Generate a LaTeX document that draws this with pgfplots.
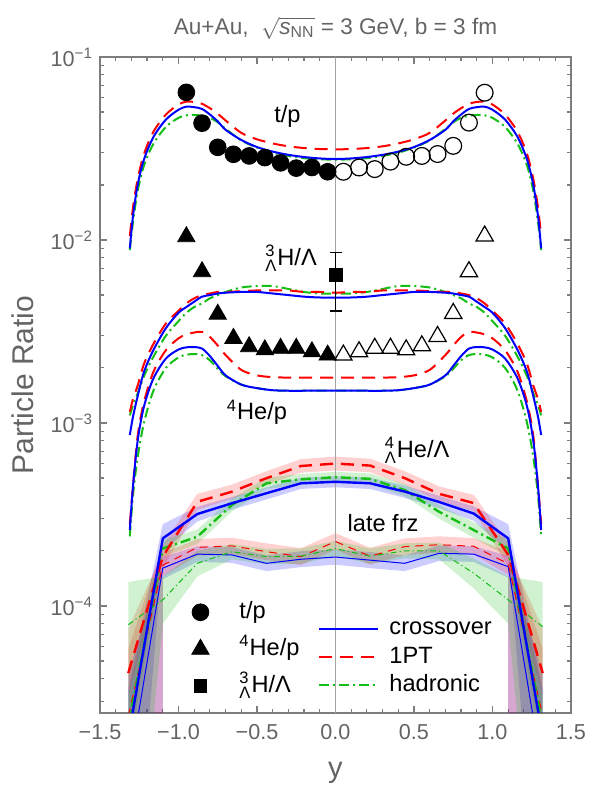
\documentclass[border=0pt]{standalone}
\usepackage{fontspec}
\setmainfont{Liberation Sans}
\usepackage{amsmath}
\usepackage{pgfplots}
\usepackage{pgfplotstable}
\pgfplotsset{compat=1.18}
\usepgfplotslibrary{fillbetween}

\definecolor{mgreen}{RGB}{20,190,20}
\definecolor{labelgray}{RGB}{100,100,100}
\definecolor{framegray}{RGB}{125,125,125}

\newcommand{\hyp}[2]{\ensuremath{{}^{\text{#1}}_{\text{Λ}}}#2}
\newcommand{\lfont}{\fontsize{11.8}{13}\selectfont}

% t/p curves
\pgfplotstableread{
x cr pt hd
-1.31 0.0090 0.0105 0.0088
-1.29 0.0135 0.0150 0.0125
-1.26 0.0200 0.0215 0.0185
-1.22 0.0275 0.0295 0.0255
-1.16 0.0365 0.0390 0.0335
-1.08 0.0455 0.0485 0.0415
-1.00 0.0515 0.0550 0.0465
-0.95 0.0535 0.0570 0.0480
-0.90 0.0532 0.0568 0.0482
-0.85 0.0520 0.0555 0.0478
-0.80 0.0485 0.0525 0.0465
-0.75 0.0445 0.0490 0.0440
-0.70 0.0400 0.0450 0.0405
-0.60 0.0352 0.0385 0.0350
-0.50 0.0322 0.0355 0.0320
-0.40 0.0304 0.0337 0.0300
-0.30 0.0292 0.0325 0.0288
-0.20 0.0284 0.0318 0.0280
-0.10 0.0279 0.0314 0.0276
0.00 0.0277 0.0313 0.0275
0.10 0.0279 0.0314 0.0276
0.20 0.0284 0.0318 0.0280
0.30 0.0292 0.0325 0.0288
0.40 0.0304 0.0337 0.0300
0.50 0.0322 0.0355 0.0320
0.60 0.0352 0.0385 0.0350
0.70 0.0400 0.0450 0.0405
0.75 0.0445 0.0490 0.0440
0.80 0.0485 0.0525 0.0465
0.85 0.0520 0.0555 0.0478
0.90 0.0532 0.0568 0.0482
0.95 0.0535 0.0570 0.0480
1.00 0.0515 0.0550 0.0465
1.08 0.0455 0.0485 0.0415
1.16 0.0365 0.0390 0.0335
1.22 0.0275 0.0295 0.0255
1.26 0.0200 0.0215 0.0185
1.29 0.0135 0.0150 0.0125
1.31 0.0090 0.0105 0.0088
}\Ttp

% 3LH/L curves
\pgfplotstableread{
x cr pt hd
-1.31 0.00086 0.00115 0.00110
-1.29 0.00108 0.00135 0.00125
-1.26 0.00140 0.00160 0.00145
-1.22 0.00190 0.00210 0.00180
-1.16 0.00250 0.00270 0.00230
-1.08 0.00330 0.00350 0.00300
-1.00 0.00400 0.00410 0.00360
-0.95 0.00430 0.00450 0.00400
-0.90 0.00460 0.00480 0.00430
-0.85 0.00490 0.00500 0.00450
-0.80 0.00500 0.00510 0.00480
-0.75 0.00510 0.00520 0.00500
-0.70 0.00515 0.00520 0.00520
-0.60 0.00520 0.00525 0.00550
-0.50 0.00520 0.00530 0.00560
-0.40 0.00510 0.00530 0.00560
-0.30 0.00500 0.00530 0.00540
-0.20 0.00490 0.00520 0.00520
-0.10 0.00485 0.00520 0.00510
0.00 0.00484 0.00515 0.00510
0.10 0.00485 0.00520 0.00510
0.20 0.00490 0.00520 0.00520
0.30 0.00500 0.00530 0.00540
0.40 0.00510 0.00530 0.00560
0.50 0.00520 0.00530 0.00560
0.60 0.00520 0.00525 0.00550
0.70 0.00515 0.00520 0.00520
0.75 0.00510 0.00520 0.00500
0.80 0.00500 0.00510 0.00480
0.85 0.00490 0.00500 0.00450
0.90 0.00460 0.00480 0.00430
0.95 0.00430 0.00450 0.00400
1.00 0.00400 0.00410 0.00360
1.08 0.00330 0.00350 0.00300
1.16 0.00250 0.00270 0.00230
1.22 0.00190 0.00210 0.00180
1.26 0.00140 0.00160 0.00145
1.29 0.00108 0.00135 0.00125
1.31 0.00086 0.00115 0.00110
}\Thl

% 4He/p curves
\pgfplotstableread{
x cr pt hd
-1.31 0.00026 0.00028 0.00024
-1.29 0.00045 0.00045 0.00040
-1.26 0.00080 0.00085 0.00065
-1.22 0.00123 0.00130 0.00100
-1.16 0.00175 0.00190 0.00150
-1.08 0.00225 0.00250 0.00200
-1.00 0.00252 0.00290 0.00228
-0.95 0.00259 0.00305 0.00236
-0.90 0.00260 0.00312 0.00238
-0.85 0.00255 0.00315 0.00235
-0.80 0.00232 0.00295 0.00220
-0.75 0.00205 0.00265 0.00198
-0.70 0.00182 0.00235 0.00180
-0.60 0.00162 0.00195 0.00162
-0.50 0.00155 0.00182 0.00155
-0.40 0.00151 0.00178 0.00151
-0.30 0.00150 0.00177 0.00150
-0.20 0.00150 0.00177 0.00150
-0.10 0.00150 0.00177 0.00150
0.00 0.00150 0.00177 0.00150
0.10 0.00150 0.00177 0.00150
0.20 0.00150 0.00177 0.00150
0.30 0.00150 0.00177 0.00150
0.40 0.00151 0.00178 0.00151
0.50 0.00155 0.00182 0.00155
0.60 0.00162 0.00195 0.00162
0.70 0.00182 0.00235 0.00180
0.75 0.00205 0.00265 0.00198
0.80 0.00232 0.00295 0.00220
0.85 0.00255 0.00315 0.00235
0.90 0.00260 0.00312 0.00238
0.95 0.00259 0.00305 0.00236
1.00 0.00252 0.00290 0.00228
1.08 0.00225 0.00250 0.00200
1.16 0.00175 0.00190 0.00150
1.22 0.00123 0.00130 0.00100
1.26 0.00080 0.00085 0.00065
1.29 0.00045 0.00045 0.00040
1.31 0.00026 0.00028 0.00024
}\Thp

% 4LHe/L, crossover / 1PT / hadronic, with bands
\pgfplotstableread{
x v lo hi
-1.32 1.9e-5 1e-6 3.5e-5
-1.10 2.34e-4 1.98e-4 2.80e-4
-0.88 3.18e-4 2.90e-4 3.48e-4
-0.66 3.64e-4 3.36e-4 3.94e-4
-0.44 4.13e-4 3.82e-4 4.45e-4
-0.22 4.68e-4 4.36e-4 5.02e-4
0.00 4.77e-4 4.45e-4 5.12e-4
0.22 4.68e-4 4.36e-4 5.02e-4
0.44 4.22e-4 3.90e-4 4.55e-4
0.66 3.70e-4 3.42e-4 4.00e-4
0.88 3.20e-4 2.92e-4 3.50e-4
1.10 2.34e-4 1.98e-4 2.80e-4
1.32 1.9e-5 1e-6 3.5e-5
}\Ttb
\pgfplotstableread{
x v lo hi
-1.32 4.3e-5 3.2e-5 5.8e-5
-1.10 1.86e-4 1.62e-4 2.15e-4
-0.88 3.71e-4 3.35e-4 4.10e-4
-0.66 4.21e-4 3.85e-4 4.60e-4
-0.44 4.99e-4 4.58e-4 5.45e-4
-0.22 5.82e-4 5.35e-4 6.35e-4
0.00 6.00e-4 5.50e-4 6.55e-4
0.22 5.85e-4 5.38e-4 6.38e-4
0.44 5.00e-4 4.58e-4 5.45e-4
0.66 4.10e-4 3.75e-4 4.50e-4
0.88 3.65e-4 3.30e-4 4.05e-4
1.10 1.90e-4 1.65e-4 2.20e-4
1.32 4.3e-5 3.2e-5 5.8e-5
}\Ttr
\pgfplotstableread{
x v lo hi
-1.32 2.2e-5 1.5e-5 3.2e-5
-1.10 2.06e-4 1.85e-4 2.30e-4
-0.88 2.39e-4 2.18e-4 2.62e-4
-0.66 3.56e-4 3.28e-4 3.86e-4
-0.44 4.68e-4 4.36e-4 5.02e-4
-0.22 4.92e-4 4.60e-4 5.26e-4
0.00 5.05e-4 4.72e-4 5.40e-4
0.22 4.95e-4 4.62e-4 5.30e-4
0.44 4.30e-4 3.98e-4 4.64e-4
0.66 3.27e-4 3.00e-4 3.56e-4
0.88 2.60e-4 2.36e-4 2.86e-4
1.10 2.06e-4 1.85e-4 2.30e-4
1.32 2.2e-5 1.5e-5 3.2e-5
}\Ttg

% late freeze-out
\pgfplotstableread{
x v lo hi
-1.32 1.2e-5 1e-6 4.2e-5
-1.10 1.61e-4 1e-6 1.85e-4
-1.0999 1.61e-4 1.40e-4 1.85e-4
-0.88 1.92e-4 1.74e-4 2.12e-4
-0.66 1.90e-4 1.72e-4 2.10e-4
-0.44 1.71e-4 1.55e-4 1.89e-4
-0.22 1.80e-4 1.63e-4 1.99e-4
0.00 1.85e-4 1.68e-4 2.04e-4
0.22 1.78e-4 1.61e-4 1.97e-4
0.44 1.71e-4 1.55e-4 1.89e-4
0.66 1.94e-4 1.76e-4 2.14e-4
0.88 1.92e-4 1.74e-4 2.12e-4
1.0999 1.64e-4 1.43e-4 1.88e-4
1.10 1.64e-4 1e-6 1.88e-4
1.32 1.2e-5 1e-6 4.2e-5
}\Tsb
\pgfplotstableread{
x v lo hi
-1.32 2.5e-5 1e-6 7.5e-5
-1.10 1.67e-4 1e-6 1.95e-4
-1.0999 1.67e-4 1.45e-4 1.95e-4
-0.88 2.09e-4 1.88e-4 2.32e-4
-0.66 2.13e-4 1.92e-4 2.36e-4
-0.44 1.98e-4 1.78e-4 2.20e-4
-0.22 1.86e-4 1.67e-4 2.07e-4
0.00 2.25e-4 2.03e-4 2.50e-4
0.22 1.87e-4 1.68e-4 2.08e-4
0.44 2.11e-4 1.90e-4 2.34e-4
0.66 2.16e-4 1.95e-4 2.40e-4
0.88 2.12e-4 1.91e-4 2.35e-4
1.0999 1.70e-4 1.48e-4 1.98e-4
1.10 1.70e-4 1e-6 1.98e-4
1.32 2.5e-5 1e-6 7.5e-5
}\Tsr
\pgfplotstableread{
x v lo hi
-1.32 7.9e-5 1e-6 1.35e-4
-1.10 1.08e-4 8.0e-5 1.45e-4
-0.88 1.71e-4 1.45e-4 2.00e-4
-0.66 1.98e-4 1.80e-4 2.18e-4
-0.44 1.86e-4 1.69e-4 2.05e-4
-0.22 1.87e-4 1.70e-4 2.06e-4
0.00 2.06e-4 1.87e-4 2.27e-4
0.22 1.87e-4 1.70e-4 2.06e-4
0.44 2.00e-4 1.82e-4 2.20e-4
0.66 2.00e-4 1.80e-4 2.22e-4
0.88 1.51e-4 1.25e-4 1.82e-4
1.10 1.08e-4 8.0e-5 1.45e-4
1.32 7.7e-5 1e-6 1.35e-4
}\Tsg

\tikzset{
  dashred/.style={red, dash pattern=on 6.5pt off 4pt},
  dashgreen/.style={mgreen, dash pattern=on 5pt off 2pt on 1pt off 2pt},
}

\begin{document}
\begin{tikzpicture}
\begin{axis}[
    scale only axis, width=235.5pt, height=328pt,
    xmin=-1.5, xmax=1.5, ymode=log, ymin=2.6e-5, ymax=0.1,
    axis line style={draw=framegray, line width=0.75pt},
    tick style={framegray, line width=0.6pt},
    tick align=inside,
    major tick length=3.5pt, minor tick length=1.8pt,
    xtick={-1.5,-1,-0.5,0,0.5,1,1.5},
    xticklabels={−1.5,−1.0,−0.5,0.0,0.5,1.0,1.5},
    minor x tick num=4,
    ytick={1e-4,1e-3,1e-2,1e-1},
    yticklabels={10\textsuperscript{−4},10\textsuperscript{−3},10\textsuperscript{−2},10\textsuperscript{−1}},
    minor ytick={3e-5,4e-5,5e-5,6e-5,7e-5,8e-5,9e-5,2e-4,3e-4,4e-4,5e-4,6e-4,7e-4,8e-4,9e-4,2e-3,3e-3,4e-3,5e-3,6e-3,7e-3,8e-3,9e-3,2e-2,3e-2,4e-2,5e-2,6e-2,7e-2,8e-2,9e-2},
    ticklabel style={font=\fontsize{10.8}{12}\selectfont, text=labelgray},
    xticklabel style={yshift=-2.4pt},
    xlabel={y},
    xlabel style={at={(axis description cs:0.5,-0.0976)}, anchor=base, font=\fontsize{14.5}{17}\selectfont, text=labelgray},
    ylabel={Particle Ratio},
    ylabel style={at={(axis description cs:-0.1635,0.5)}, anchor=center, font=\fontsize{15}{17}\selectfont, text=labelgray},
    title={Au+Au,\ \ $\sqrt{\text{\itshape s}_{\text{NN}}}$ = 3 GeV, b = 3 fm},
    title style={at={(axis description cs:0.5,1)}, anchor=base, yshift=5.3pt, inner sep=0pt, font=\fontsize{11.3}{13}\selectfont, text=labelgray},
    legend style={at={(axis cs:-0.111,8.9e-5)}, anchor=north west, draw=none, fill=none,
      inner sep=0pt, row sep=1.2pt, font=\lfont,
      nodes={inner sep=1pt, text height=8.5pt, text depth=2.5pt}},
    legend cell align=left,
    legend image code/.code={\draw[#1] (0pt,0pt) -- (29.5pt,0pt); \path[draw=none] (34pt,0pt);},
]
% y = 0 line
\addplot[framegray!70, line width=0.4pt, forget plot] coordinates {(0,2.6e-5) (0,0.1)};

% bands, 4LHe/L
\addplot[name path=tbh, draw=none, forget plot] table[x=x, y=hi] {\Ttb};
\addplot[name path=tbl, draw=none, forget plot] table[x=x, y=lo] {\Ttb};
\addplot[fill=blue, fill opacity=0.2, draw=none, forget plot] fill between[of=tbh and tbl];
\addplot[name path=trh, draw=none, forget plot] table[x=x, y=hi] {\Ttr};
\addplot[name path=trl, draw=none, forget plot] table[x=x, y=lo] {\Ttr};
\addplot[fill=red, fill opacity=0.18, draw=none, forget plot] fill between[of=trh and trl];
\addplot[name path=tgh, draw=none, forget plot] table[x=x, y=hi] {\Ttg};
\addplot[name path=tgl, draw=none, forget plot] table[x=x, y=lo] {\Ttg};
\addplot[fill=mgreen, fill opacity=0.2, draw=none, forget plot] fill between[of=tgh and tgl];
% bands, late frz
\addplot[name path=sbh, draw=none, forget plot] table[x=x, y=hi] {\Tsb};
\addplot[name path=sbl, draw=none, forget plot] table[x=x, y=lo] {\Tsb};
\addplot[fill=blue, fill opacity=0.2, draw=none, forget plot] fill between[of=sbh and sbl];
\addplot[name path=srh, draw=none, forget plot] table[x=x, y=hi] {\Tsr};
\addplot[name path=srl, draw=none, forget plot] table[x=x, y=lo] {\Tsr};
\addplot[fill=red, fill opacity=0.18, draw=none, forget plot] fill between[of=srh and srl];
\addplot[name path=sgh, draw=none, forget plot] table[x=x, y=hi] {\Tsg};
\addplot[name path=sgl, draw=none, forget plot] table[x=x, y=lo] {\Tsg};
\addplot[fill=mgreen, fill opacity=0.2, draw=none, forget plot] fill between[of=sgh and sgl];

% late frz lines
\addplot[blue, line width=0.5pt, forget plot] table[x=x, y=v] {\Tsb};
\addplot[red, line width=0.5pt, dash pattern=on 4pt off 3pt, forget plot] table[x=x, y=v] {\Tsr};
\addplot[mgreen, line width=0.5pt, dash pattern=on 3pt off 1.5pt on 0.6pt off 1.5pt, forget plot] table[x=x, y=v] {\Tsg};
% 4LHe/L lines
\addplot[dashgreen, line width=1.2pt, forget plot] table[x=x, y=v] {\Ttg};
\addplot[dashred, line width=1.2pt, forget plot] table[x=x, y=v] {\Ttr};
\addplot[blue, line width=1.2pt, forget plot] table[x=x, y=v] {\Ttb};

% model curves: t/p
\addplot[dashgreen, line width=1pt, smooth, forget plot] table[x=x, y=hd] {\Ttp};
\addplot[dashred, line width=1pt, smooth, forget plot] table[x=x, y=pt] {\Ttp};
\addplot[blue, line width=1pt, smooth, forget plot] table[x=x, y=cr] {\Ttp};
% 3LH/L
\addplot[dashgreen, line width=1pt, smooth, forget plot] table[x=x, y=hd] {\Thl};
\addplot[dashred, line width=1pt, smooth, forget plot] table[x=x, y=pt] {\Thl};
\addplot[blue, line width=1pt, smooth, forget plot] table[x=x, y=cr] {\Thl};
% 4He/p
\addplot[dashgreen, line width=1pt, smooth, forget plot] table[x=x, y=hd] {\Thp};
\addplot[dashred, line width=1pt, smooth, forget plot] table[x=x, y=pt] {\Thp};
\addplot[blue, line width=1pt, smooth, forget plot] table[x=x, y=cr] {\Thp};

% labels
\node[font=\lfont, anchor=base] at (axis cs:-0.306,0.0436) {t/p};
\node[font=\lfont, anchor=base] at (axis cs:-0.283,0.0073) {\hyp{3}{H/Λ}};
\node[font=\lfont, anchor=base] at (axis cs:-0.5,0.00104) {\textsuperscript{4}He/p};
\node[font=\lfont, anchor=base] at (axis cs:0.52,0.000651) {\hyp{4}{He/Λ}};
\node[font=\lfont, anchor=base] at (axis cs:0.303,0.000254) {late frz};

\addlegendimage{blue, line width=1pt}
\addlegendentry{crossover}
\addlegendimage{dashred, line width=1pt}
\addlegendentry{1PT}
\addlegendimage{dashgreen, line width=1pt}
\addlegendentry{hadronic}
\end{axis}

% data points on top
\begin{axis}[
    scale only axis, width=235.5pt, height=328pt,
    xmin=-1.5, xmax=1.5, ymode=log, ymin=2.6e-5, ymax=0.1,
    hide axis,
    legend style={at={(axis cs:-0.99,1.15e-4)}, anchor=north west, draw=none, fill=none,
      inner sep=0pt, row sep=1.5pt, font=\lfont,
      nodes={inner sep=1.5pt, text height=10pt, text depth=4pt}},
    legend cell align=left,
    legend image code/.code={\path[draw=none] (0pt,0pt) (28pt,0pt);
      \draw[#1,mark repeat=2,mark phase=2] plot coordinates {(0pt,0pt) (10pt,0pt) (20pt,0pt)};},
]
\addplot[only marks, mark=*, mark size=4.2pt, black, forget plot] coordinates {
(-0.95,0.0641) (-0.85,0.0435) (-0.75,0.0321) (-0.65,0.0294) (-0.55,0.0288)
(-0.45,0.0282) (-0.35,0.0264) (-0.25,0.0247) (-0.15,0.0249) (-0.05,0.0236)};
\addplot[only marks, mark=o, mark size=4.2pt, black, line width=0.6pt, forget plot] coordinates {
(0.05,0.0236) (0.15,0.0249) (0.25,0.0244) (0.35,0.0268) (0.45,0.0285)
(0.55,0.0288) (0.65,0.0295) (0.75,0.0327) (0.85,0.0438) (0.95,0.0638)};
\addplot[only marks, mark=triangle*, mark size=5pt, black, forget plot] coordinates {
(-0.95,0.01042) (-0.85,0.00671) (-0.75,0.00393) (-0.65,0.00290) (-0.55,0.00261)
(-0.45,0.00251) (-0.35,0.00256) (-0.25,0.00256) (-0.15,0.00245) (-0.05,0.00235)};
\addplot[only marks, mark=triangle, mark size=5pt, black, line width=0.6pt, forget plot] coordinates {
(0.05,0.00235) (0.15,0.00245) (0.25,0.00256) (0.35,0.00256) (0.45,0.00251)
(0.55,0.00264) (0.65,0.00297) (0.75,0.00397) (0.85,0.00671) (0.95,0.01051)};
\addplot[only marks, mark=square*, mark size=3.2pt, black, forget plot,
  error bars/.cd, y dir=both, y explicit,
  error bar style={line width=0.7pt},
  error mark=|,
  error mark options={black, mark size=3pt, line width=0.7pt}]
  coordinates {(0,0.00644) += (0,0.00209) -= (0,0.00235)};

\addlegendimage{only marks, mark=*, mark size=4.2pt, black}
\addlegendentry{t/p}
\addlegendimage{only marks, mark=triangle*, mark size=5pt, black}
\addlegendentry{\textsuperscript{4}He/p}
\addlegendimage{only marks, mark=square*, mark size=3.2pt, black}
\addlegendentry{\hyp{3}{H/Λ}}
\end{axis}

\pgfresetboundingbox
\path[use as bounding box] ([shift={(-50pt,-40pt)}]current axis.south west) rectangle ([shift={(9pt,28.5pt)}]current axis.north east);
\end{tikzpicture}
\end{document}
